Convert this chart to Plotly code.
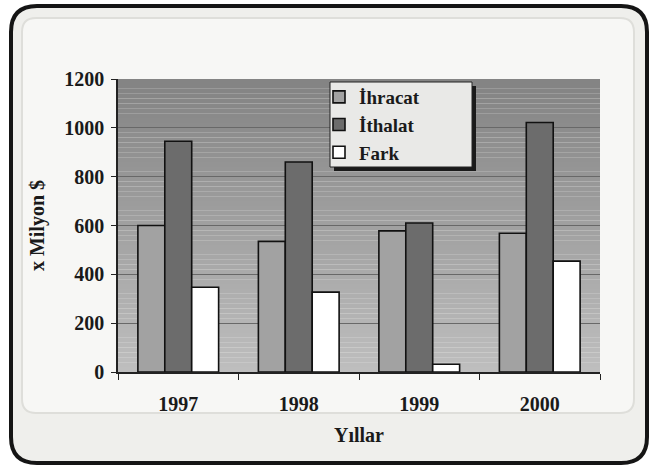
import plotly.graph_objects as go

years = ["1997", "1998", "1999", "2000"]
ihracat = [600, 535, 578, 568]
ithalat = [945, 860, 610, 1022]
fark = [347, 327, 32, 454]
y_ticks = [0, 200, 400, 600, 800, 1000, 1200]

W, H = 656, 472
L, R, T, B = 118, 600, 79, 372  # plot area in pixels

def px(x):
    return (x - L) / (R - L)

def py(y):
    return (B - y) / (B - T)

def rounded_path(x0, y0, x1, y1, r):
    pts = []
    pts.append(f"M{px(x0 + r)},{py(y0)}")
    pts.append(f"L{px(x1 - r)},{py(y0)}")
    pts.append(f"Q{px(x1)},{py(y0)} {px(x1)},{py(y0 + r)}")
    pts.append(f"L{px(x1)},{py(y1 - r)}")
    pts.append(f"Q{px(x1)},{py(y1)} {px(x1 - r)},{py(y1)}")
    pts.append(f"L{px(x0 + r)},{py(y1)}")
    pts.append(f"Q{px(x0)},{py(y1)} {px(x0)},{py(y1 - r)}")
    pts.append(f"L{px(x0)},{py(y0 + r)}")
    pts.append(f"Q{px(x0)},{py(y0)} {px(x0 + r)},{py(y0)}")
    pts.append("Z")
    return " ".join(pts)

font = "Liberation Serif, Times New Roman, serif"
FS = 20

fig = go.Figure()
fig.add_trace(go.Bar(name="İhracat", x=years, y=ihracat,
                     marker=dict(color="#a2a2a2", line=dict(color="#111", width=1.6))))
fig.add_trace(go.Bar(name="İthalat", x=years, y=ithalat,
                     marker=dict(color="#6c6c6c", line=dict(color="#111", width=1.6))))
fig.add_trace(go.Bar(name="Fark", x=years, y=fark,
                     marker=dict(color="#ffffff", line=dict(color="#111", width=1.6))))

shapes = []
# outer frame
shapes.append(dict(type="path", xref="paper", yref="paper", layer="below",
                   path=rounded_path(11, 6, 647, 463, 26),
                   fillcolor="#efefec", line=dict(color="#151515", width=4)))
# inner panel
shapes.append(dict(type="path", xref="paper", yref="paper", layer="below",
                   path=rounded_path(22, 18, 634, 413, 14),
                   fillcolor="#f7f7f5", line=dict(color="#dededa", width=2)))
# gradient plot background
n = 60
c0, c1 = 0x84, 0xbe
for i in range(n):
    t = i / (n - 1)
    c = int(c0 + (c1 - c0) * t)
    col = f"rgb({c},{c},{c})"
    shapes.append(dict(type="rect", xref="x domain", yref="y domain", layer="below",
                       x0=0, x1=1, y0=1 - (i + 1) / n, y1=1 - i / n,
                       fillcolor=col, line=dict(width=0)))
# legend shadow and box
shapes.append(dict(type="rect", xref="paper", yref="paper", layer="above",
                   x0=px(334), x1=px(476), y0=py(171), y1=py(86),
                   fillcolor="#1a1a1a", line=dict(width=0)))
shapes.append(dict(type="rect", xref="paper", yref="paper", layer="above",
                   x0=px(330), x1=px(472), y0=py(167), y1=py(82),
                   fillcolor="#e9e9e7", line=dict(color="#222", width=1)))

fig.update_layout(
    width=W, height=H,
    margin=dict(l=L, r=W - R, t=T, b=H - B, autoexpand=False),
    paper_bgcolor="white",
    plot_bgcolor="rgba(0,0,0,0)",
    barmode="group",
    bargap=0.33,
    bargroupgap=0.0,
    shapes=shapes,
    font=dict(family=font, color="#1a1a1a", size=FS),
    legend=dict(x=px(319), y=py(78), xanchor="left", yanchor="top",
                bgcolor="rgba(0,0,0,0)", borderwidth=0,
                font=dict(family=font, size=19, color="#1a1a1a", weight="bold"),
                itemwidth=30, tracegroupgap=0),
    showlegend=True,
)
fig.update_xaxes(
    automargin=False,
    showline=True, linecolor="#222", linewidth=1.5,
    ticks="outside", tickson="boundaries", ticklen=6, tickcolor="#222",
    tickfont=dict(family=font, size=FS, weight="bold"),
    ticklabelstandoff=13,
    title=dict(text="Yıllar", font=dict(family=font, size=FS, weight="bold"), standoff=14),
)
fig.update_yaxes(
    automargin=False,
    range=[0, 1200], tickvals=y_ticks,
    showline=True, linecolor="#222", linewidth=1.5,
    ticks="outside", ticklen=5, tickcolor="#222",
    showgrid=True, gridcolor="#686868", gridwidth=1,
    zeroline=False,
    tickfont=dict(family=font, size=FS, weight="bold"),
    ticklabelstandoff=3,
    title=dict(text="x Milyon $", font=dict(family=font, size=FS, weight="bold"), standoff=14),
)

fig.write_html("out.html", config={"displayModeBar": False},
               post_script="document.body.style.margin='0px';")
